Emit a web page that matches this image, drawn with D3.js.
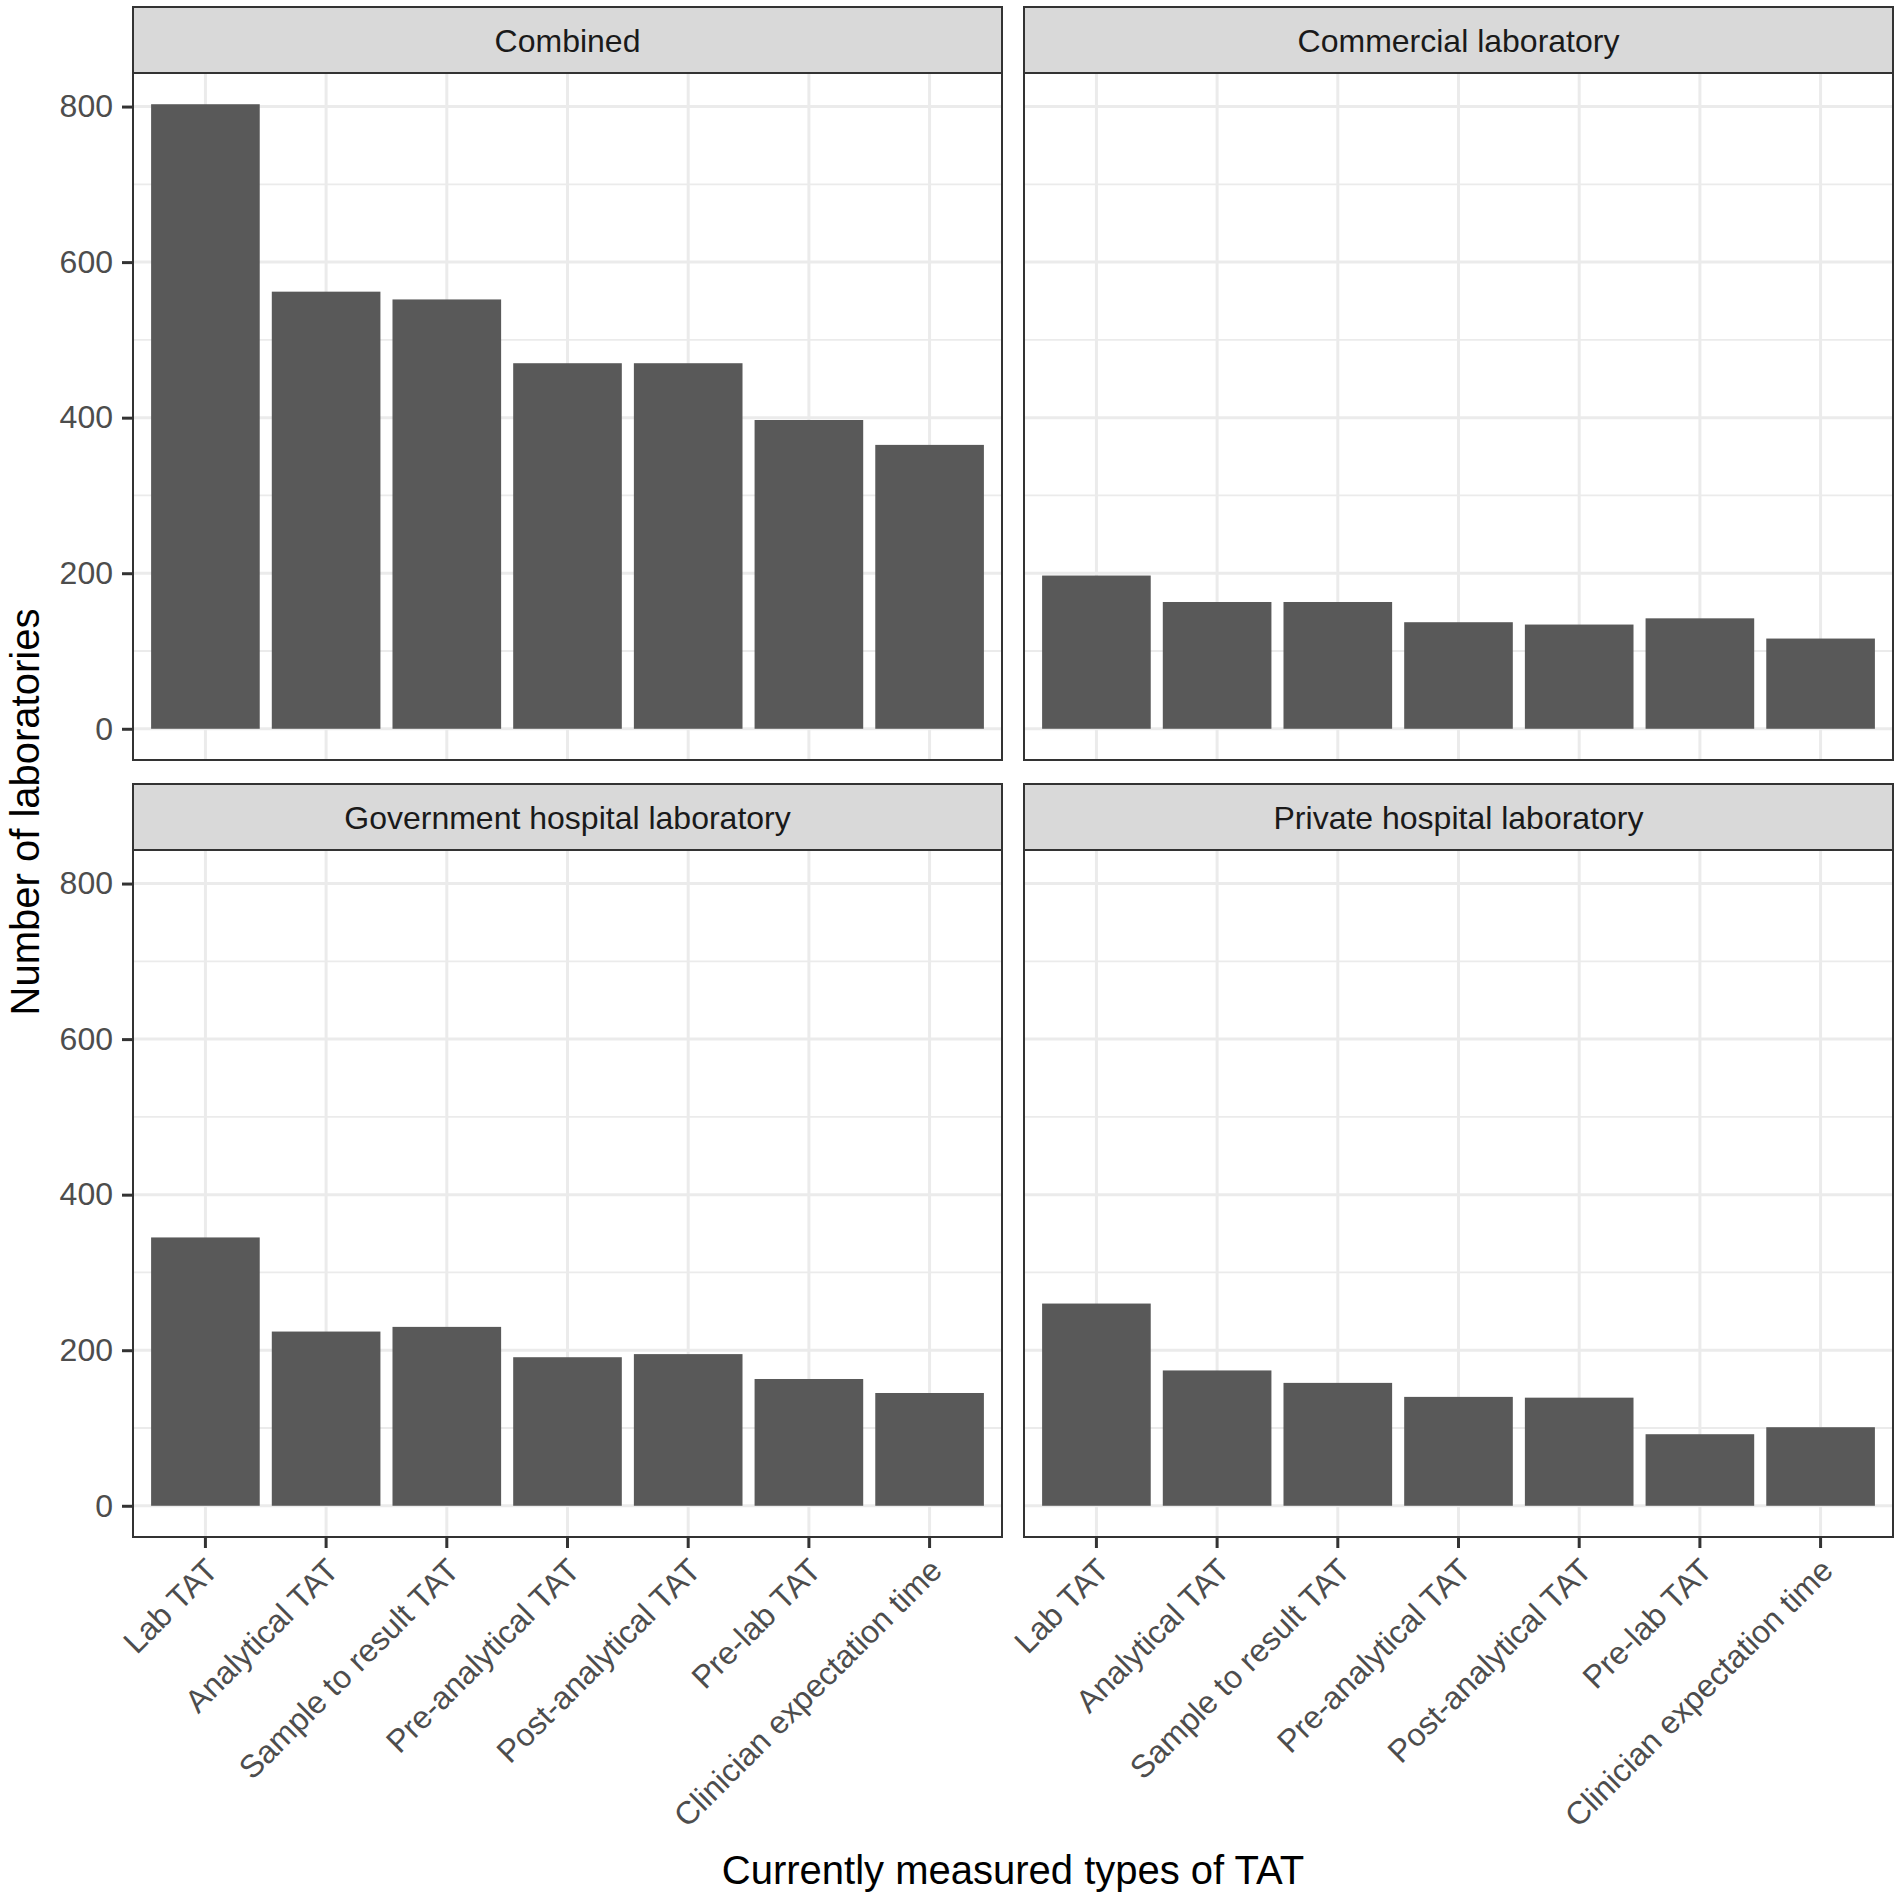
<!DOCTYPE html>
<html>
<head>
<meta charset="utf-8">
<script src="https://cdn.jsdelivr.net/npm/d3@7"></script>
<style>
  body { margin: 0; background: #fff; }
  svg { font-family: "Liberation Sans", Arial, Helvetica, sans-serif; display: block; }
</style>
</head>
<body>
<div id="chart"></div>
<script>
const categories = [
    "Lab TAT",
    "Analytical TAT",
    "Sample to result TAT",
    "Pre-analytical TAT",
    "Post-analytical TAT",
    "Pre-lab TAT",
    "Clinician expectation time"
];
const facets = ["Combined", "Commercial laboratory", "Government hospital laboratory", "Private hospital laboratory"];

const combined = [803, 562, 552, 470, 470, 397, 365];
const commercial = [197, 163, 163, 137, 134, 142, 116];
const government = [345, 224, 230, 191, 195, 163, 145];
const privateHosp = [260, 174, 158, 140, 139, 92, 101];

const yTicks = [0, 200, 400, 600, 800];
const yMinor = [100, 300, 500, 700];

const seriesByFacet = [combined, commercial, government, privateHosp];

const width = 1902, height = 1900;
const panelW = 869, panelH = 687, stripH = 66;
const colX = [133, 1024];
const rowStripTop = [7, 784];

const svg = d3.select("#chart").append("svg")
    .attr("width", width)
    .attr("height", height);

const x = d3.scaleBand()
    .domain(categories)
    .range([0, panelW])
    .paddingInner(0.1)
    .paddingOuter(0.15);

const allVals = seriesByFacet.flat();
const yMax = d3.max(allVals);
const y = d3.scaleLinear()
    .domain([-yMax * 0.05, yMax * 1.05])
    .range([panelH, 0]);

facets.forEach((name, i) => {
    const col = i % 2, row = Math.floor(i / 2);
    const left = colX[col];
    const stripTop = rowStripTop[row];
    const top = stripTop + stripH;
    const values = seriesByFacet[i];
    const data = categories.map((c, k) => ({ cat: c, value: values[k] }));

    const g = svg.append("g").attr("transform", `translate(${left},${top})`);

    // grid
    g.selectAll(".minor").data(yMinor).enter().append("line")
        .attr("x1", 0).attr("x2", panelW)
        .attr("y1", d => y(d)).attr("y2", d => y(d))
        .attr("stroke", "#ebebeb").attr("stroke-width", 1.8);
    g.selectAll(".major").data(yTicks).enter().append("line")
        .attr("x1", 0).attr("x2", panelW)
        .attr("y1", d => y(d)).attr("y2", d => y(d))
        .attr("stroke", "#ebebeb").attr("stroke-width", 3);
    g.selectAll(".vgrid").data(categories).enter().append("line")
        .attr("x1", d => x(d) + x.bandwidth() / 2).attr("x2", d => x(d) + x.bandwidth() / 2)
        .attr("y1", 0).attr("y2", panelH)
        .attr("stroke", "#ebebeb").attr("stroke-width", 3);

    // bars
    g.selectAll(".bar").data(data).enter().append("rect")
        .attr("x", d => x(d.cat))
        .attr("width", x.bandwidth())
        .attr("y", d => y(d.value))
        .attr("height", d => y(0) - y(d.value))
        .attr("fill", "#595959");

    // panel border
    g.append("rect")
        .attr("x", 0).attr("y", 0)
        .attr("width", panelW).attr("height", panelH)
        .attr("fill", "none")
        .attr("stroke", "#333333")
        .attr("stroke-width", 2);

    // strip
    svg.append("rect")
        .attr("x", left).attr("y", stripTop)
        .attr("width", panelW).attr("height", stripH)
        .attr("fill", "#d9d9d9")
        .attr("stroke", "#333333")
        .attr("stroke-width", 2);
    svg.append("text")
        .attr("x", left + panelW / 2)
        .attr("y", stripTop + stripH / 2)
        .attr("dy", "0.36em")
        .attr("text-anchor", "middle")
        .attr("font-size", "32px")
        .attr("fill", "#1a1a1a")
        .text(name);

    // y axis on left column
    if (col === 0) {
        const ya = g.append("g")
            .call(d3.axisLeft(y).tickValues(yTicks).tickSize(11).tickPadding(9));
        ya.select(".domain").remove();
        ya.selectAll("line").attr("stroke", "#333333").attr("stroke-width", 3);
        ya.selectAll("text")
            .attr("font-size", "32px")
            .attr("font-family", "Liberation Sans, Arial, Helvetica, sans-serif")
            .attr("fill", "#4d4d4d");
    }

    // x axis on bottom row
    if (row === 1) {
        const xa = g.append("g")
            .attr("transform", `translate(0,${panelH})`)
            .call(d3.axisBottom(x).tickSize(11).tickPadding(0));
        xa.select(".domain").remove();
        xa.selectAll("line").attr("stroke", "#333333").attr("stroke-width", 3);
        xa.selectAll("text")
            .attr("font-size", "32px")
            .attr("font-family", "Liberation Sans, Arial, Helvetica, sans-serif")
            .attr("fill", "#4d4d4d")
            .attr("text-anchor", "end")
            .attr("y", 0)
            .attr("dy", "0.72em")
            .attr("transform", "translate(-2,19) rotate(-45)");
    }
});

// Axis titles
svg.append("text")
    .attr("x", (colX[0] + colX[1] + panelW) / 2)
    .attr("y", 1884)
    .attr("text-anchor", "middle")
    .attr("font-size", "40px")
    .attr("fill", "#000")
    .text("Currently measured types of TAT");

svg.append("text")
    .attr("transform", "rotate(-90)")
    .attr("x", -812)
    .attr("y", 39)
    .attr("text-anchor", "middle")
    .attr("font-size", "40px")
    .attr("fill", "#000")
    .text("Number of laboratories");
</script>
</body>
</html>
